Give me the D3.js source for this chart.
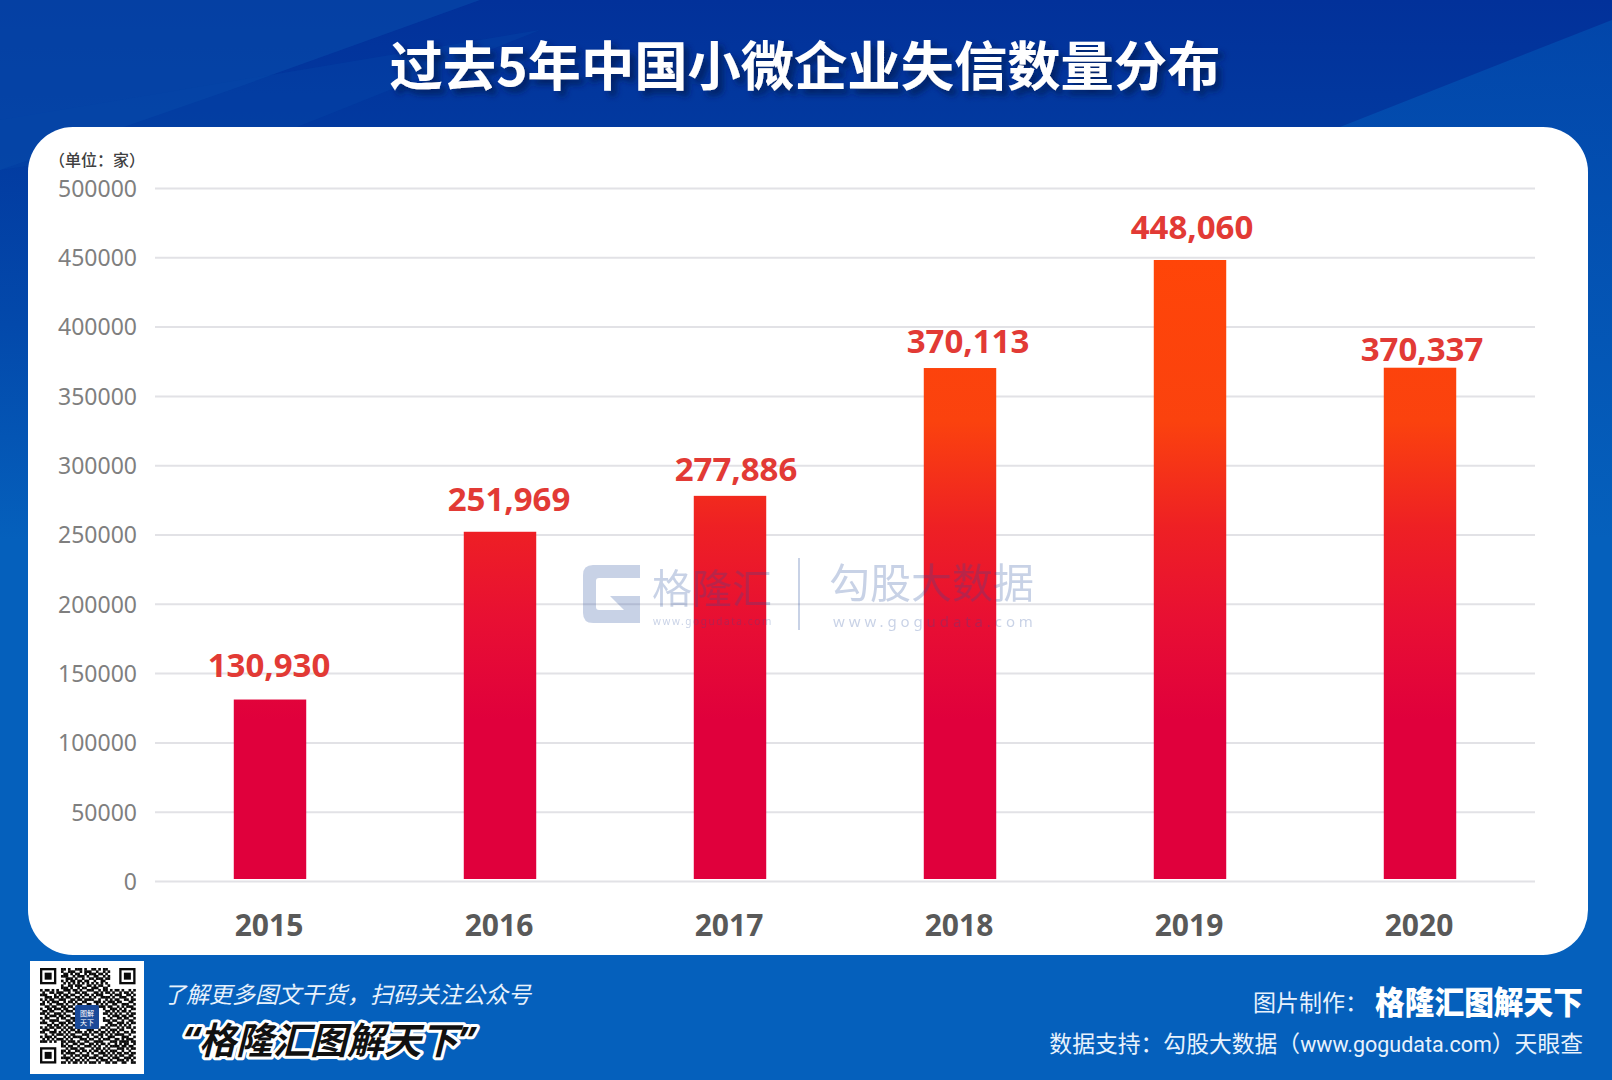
<!DOCTYPE html>
<html>
<head>
<meta charset="utf-8">
<script src="https://cdn.jsdelivr.net/npm/d3@7"></script>
<style>
    html, body { margin: 0; padding: 0; background: #0560bc; }
    svg { display: block; }
    text { font-family: "Noto Sans CJK SC", "Noto Sans", sans-serif; }
    .num { font-family: "Noto Sans", "Noto Sans CJK SC", sans-serif; }
    .axis path { display: none; }
</style>
</head>
<body>
<div id="chart"></div>
<script>
// Chart data
const years = ['2015', '2016', '2017', '2018', '2019', '2020'];
const counts = [130930, 251969, 277886, 370113, 448060, 370337];
const yTicks = [0, 50000, 100000, 150000, 200000, 250000, 300000, 350000, 400000, 450000, 500000];

const titleText = '过去5年中国小微企业失信数量分布';
const unitText = '（单位：家）';

// QR code modules, roughly as seen (finder squares are drawn on top)
const qrRows = [
    '00000000011010011101001101011000000000000',
    '00000000010011100101110010010100000000000',
    '00000000001101011001011101101000000000000',
    '00000000011100101110100110010100000000000',
    '00000000000111010010011011101100000000000',
    '00000000010101101101100100110000000000000',
    '00000000001010101010101010101000000000000',
    '00000000010011011100110101100100000000000',
    '00000000011101001011001110011000000000000',
    '10110101001110110100111001011010110100101',
    '01001101110010011011000110101101001011010',
    '11100010101101100101101011100010111001101',
    '00111011010110011010010100111101001110010',
    '10101100111001101101111001001010110011011',
    '01010111001011010011000111010111011000110',
    '11001001110100101100110010101001100111001',
    '00110110011011000110001101110110010101110',
    '10011011101100111010000000010011101010011',
    '01101100010111001100000000001101010110100',
    '11010011101000110010000000011010101001011',
    '00101110110110001100000000000101110110110',
    '10110001011001110100000000010010011011001',
    '01001111000110101100000000011101100100110',
    '11100100111011010010000000000110011101011',
    '00011011010100101110000000001011101010100',
    '10101101101011010011100110110100010101101',
    '01110010010101101000111001001011101100010',
    '11001110101010011101010110110101010011011',
    '00100101110101100011101001101010111100100',
    '10111010001010111100100110100111000111001',
    '01010101110101000111011001011100110101110',
    '11101010011011101001100111100011101111011',
    '00000000010100110110011010110100101011001',
    '00000000011011001001110101001011110110110',
    '00000000000101110110001011010100011101011',
    '00000000011010011011010110101011100100100',
    '00000000010111100100101001110101011011011',
    '00000000001001011011100110011010101100110',
    '00000000011110100101011101100101110011101',
    '00000000000101011010100010111010011101010',
    '00000000011010110101011101001101100110011'
];

const width = 1612;
const height = 1080;

const svg = d3.select('#chart').append('svg')
    .attr('width', width)
    .attr('height', height)
    .attr('viewBox', `0 0 ${width} ${height}`);

const defs = svg.append('defs');

// Scales
const x = d3.scaleBand().domain(years).range([155, 1535]).paddingInner(0.685).paddingOuter(0.3425);
const y = d3.scaleLinear().domain([0, 500000]).range([881, 188]);

// ---- Background ----
const bgGrad = defs.append('linearGradient').attr('id', 'bg').attr('x1', 0).attr('y1', 0).attr('x2', 0).attr('y2', 1);
[[0, '#02319a'], [0.13, '#023aa0'], [0.3, '#0349ab'], [0.5, '#0560bc'], [1, '#0560bc']].forEach(s => {
    bgGrad.append('stop').attr('offset', s[0]).attr('stop-color', s[1]);
});
svg.append('rect').attr('width', width).attr('height', height).attr('fill', 'url(#bg)');

const rightBand = defs.append('linearGradient').attr('id', 'bandR').attr('x1', 0).attr('y1', 0).attr('x2', 0).attr('y2', 1);
rightBand.append('stop').attr('offset', 0).attr('stop-color', '#0246aa');
rightBand.append('stop').attr('offset', 1).attr('stop-color', '#0560bc');

const bgShapes = [
    { d: 'M0,0 L480,0 L230,90 L0,170 Z', fill: '#0a4dac', opacity: 0.55 },
    { d: 'M0,170 L297,127 L540,30 L0,120 Z', fill: '#0646a8', opacity: 0.4 },
    { d: 'M1340,127 L1612,20 L1612,540 L1340,540 Z', fill: 'url(#bandR)', opacity: 1 }
];
svg.append('g').selectAll('path').data(bgShapes).join('path')
    .attr('d', d => d.d)
    .attr('fill', d => d.fill)
    .attr('opacity', d => d.opacity);

// Title with dark offset shadow
const titleShadow = defs.append('filter').attr('id', 'titleShadow')
    .attr('x', '-5%').attr('y', '-30%').attr('width', '110%').attr('height', '170%');
titleShadow.append('feDropShadow')
    .attr('dx', 5).attr('dy', 5).attr('stdDeviation', 3)
    .attr('flood-color', '#011a5c').attr('flood-opacity', 0.9);

svg.append('text')
    .attr('x', 805)
    .attr('y', 86)
    .attr('text-anchor', 'middle')
    .attr('font-size', 53.3)
    .attr('font-weight', 700)
    .attr('fill', '#ffffff')
    .attr('filter', 'url(#titleShadow)')
    .text(titleText);

// White card behind the plot
svg.append('rect')
    .attr('x', 28).attr('y', 127)
    .attr('width', 1560).attr('height', 828)
    .attr('rx', 45).attr('ry', 45)
    .attr('fill', '#ffffff');

svg.append('text')
    .attr('x', 49)
    .attr('y', 166)
    .attr('font-size', 16)
    .attr('font-weight', 500)
    .attr('fill', '#404040')
    .text(unitText);

// ---- Axes ----
const yAxis = svg.append('g')
    .attr('class', 'axis')
    .attr('transform', 'translate(155,0)')
    .call(d3.axisLeft(y).tickValues(yTicks).tickFormat(d3.format('d')).tickSizeInner(-1380).tickSizeOuter(0).tickPadding(18));
yAxis.selectAll('line').attr('stroke', '#e2e2e6').attr('stroke-width', 2);
yAxis.selectAll('text')
    .attr('class', 'num')
    .attr('y', 1)
    .attr('font-size', 23)
    .attr('fill', '#7f7f7f');

const xAxis = svg.append('g')
    .attr('class', 'axis')
    .attr('transform', 'translate(-1,881)')
    .call(d3.axisBottom(x).tickSize(0).tickPadding(0));
xAxis.selectAll('text')
    .attr('class', 'num')
    .attr('y', 55)
    .attr('dy', 0)
    .attr('font-size', 30)
    .attr('font-weight', 700)
    .attr('fill', '#595959');

// ---- Bars: one gradient shared across the plot height ----
const barGrad = defs.append('linearGradient').attr('id', 'barFill')
    .attr('gradientUnits', 'userSpaceOnUse')
    .attr('x1', 0).attr('x2', 0)
    .attr('y1', y(448060)).attr('y2', y(0));
[[0, '#ff4508'], [0.26, '#fb420e'], [0.43, '#ee2024'], [0.58, '#e80f33'], [0.74, '#e0003c'], [1, '#e0003c']].forEach(s => {
    barGrad.append('stop').attr('offset', s[0]).attr('stop-color', s[1]);
});

const barFootGap = 2;
svg.append('g').selectAll('rect').data(years).join('rect')
    .attr('x', d => x(d))
    .attr('y', (d, i) => y(counts[i]))
    .attr('width', x.bandwidth())
    .attr('height', (d, i) => y(0) - y(counts[i]) - barFootGap)
    .attr('fill', 'url(#barFill)');

// Value labels sit by hand in the original, so each has its own nudge
const labelDx = [-1, 9, 6, 8, 2, 2];
const labelDy = [23, 21, 15, 15, 21, 7];
svg.append('g').selectAll('text').data(years).join('text')
    .attr('class', 'num')
    .attr('x', (d, i) => x(d) + x.bandwidth() / 2 + labelDx[i])
    .attr('y', (d, i) => y(counts[i]) - labelDy[i])
    .attr('text-anchor', 'middle')
    .attr('font-size', 33)
    .attr('font-weight', 700)
    .attr('fill', '#e23a35')
    .text((d, i) => d3.format(',')(counts[i]));

// ---- Watermark, over the bars ----
const wm = svg.append('g').attr('fill', '#2a4f9e').attr('opacity', 0.25);
wm.append('path')
    .attr('fill-rule', 'evenodd')
    .attr('d', 'M593,565 L640,565 L640,578 L599,578 Q596,578 596,581 L596,607 Q596,610 599,610 L624,610 L610,596 L640,596 L640,623 L628,623 L622,623 L593,623 Q583,623 583,613 L583,575 Q583,565 593,565 Z');
wm.append('text').attr('x', 652).attr('y', 603).attr('font-size', 40).text('格隆汇');
wm.append('text').attr('class', 'num').attr('x', 653).attr('y', 625).attr('font-size', 10).attr('letter-spacing', 1.6).text('www.gogudata.com');
wm.append('rect').attr('x', 798).attr('y', 558).attr('width', 2).attr('height', 72);
wm.append('text').attr('x', 829).attr('y', 598).attr('font-size', 41).text('勾股大数据');
wm.append('text').attr('class', 'num').attr('x', 833).attr('y', 627).attr('font-size', 15).attr('letter-spacing', 3.9).text('www.gogudata.com');

// ---- Footer ----
svg.append('rect').attr('x', 30).attr('y', 961).attr('width', 114).attr('height', 113).attr('fill', '#ffffff');

const qrX = 40, qrY = 968, qrCell = 2.33;
const qrCells = [];
qrRows.forEach((row, r) => {
    row.split('').forEach((c, k) => {
        if (c === '1') qrCells.push({ r, k });
    });
});
const qr = svg.append('g').attr('transform', `translate(${qrX},${qrY})`);
qr.selectAll('rect.mod').data(qrCells).join('rect')
    .attr('class', 'mod')
    .attr('x', d => d.k * qrCell)
    .attr('y', d => d.r * qrCell)
    .attr('width', qrCell + 0.3)
    .attr('height', qrCell + 0.3)
    .attr('fill', '#0a0a0a');

// Three finder squares
[[0, 0], [34, 0], [0, 34]].forEach(p => {
    const g = qr.append('g').attr('transform', `translate(${p[0] * qrCell},${p[1] * qrCell})`);
    g.append('rect').attr('width', 7 * qrCell).attr('height', 7 * qrCell).attr('fill', '#0a0a0a');
    g.append('rect').attr('x', qrCell).attr('y', qrCell).attr('width', 5 * qrCell).attr('height', 5 * qrCell).attr('fill', '#ffffff');
    g.append('rect').attr('x', 2 * qrCell).attr('y', 2 * qrCell).attr('width', 3 * qrCell).attr('height', 3 * qrCell).attr('fill', '#0a0a0a');
});

// Logo in the middle of the QR code
svg.append('rect').attr('x', 75).attr('y', 1005).attr('width', 24).attr('height', 24).attr('rx', 2).attr('fill', '#1b4a98');
svg.append('text').attr('x', 87).attr('y', 1016).attr('text-anchor', 'middle').attr('font-size', 7).attr('fill', '#ffffff').text('图解');
svg.append('text').attr('x', 87).attr('y', 1025).attr('text-anchor', 'middle').attr('font-size', 7).attr('fill', '#ffffff').text('天下');

svg.append('text')
    .attr('x', 163)
    .attr('y', 1003)
    .attr('font-size', 23)
    .attr('font-style', 'italic')
    .attr('fill', '#e8f2fc')
    .text('了解更多图文干货，扫码关注公众号');

svg.append('text')
    .attr('class', 'num')
    .attr('x', 183)
    .attr('y', 1054)
    .attr('font-size', 37)
    .attr('font-weight', 700)
    .attr('font-style', 'italic')
    .attr('fill', '#111111')
    .attr('stroke', '#ffffff')
    .attr('stroke-width', 6)
    .attr('stroke-linejoin', 'round')
    .attr('paint-order', 'stroke')
    .text('“格隆汇图解天下”');

svg.append('text')
    .attr('x', 1253)
    .attr('y', 1011)
    .attr('font-size', 23)
    .attr('fill', '#e8f2fc')
    .text('图片制作：');

svg.append('text')
    .attr('x', 1375)
    .attr('y', 1014)
    .attr('font-size', 32)
    .attr('font-weight', 900)
    .attr('fill', '#ffffff')
    .attr('textLength', 208)
    .attr('lengthAdjust', 'spacingAndGlyphs')
    .text('格隆汇图解天下');

const sourceLine = svg.append('text')
    .attr('x', 1583)
    .attr('y', 1052)
    .attr('text-anchor', 'end')
    .attr('font-size', 22.8)
    .attr('fill', '#e8f2fc');
sourceLine.append('tspan').text('数据支持：勾股大数据（');
sourceLine.append('tspan').attr('font-family', 'Roboto').attr('font-size', 21.5).text('www.gogudata.com');
sourceLine.append('tspan').text('）天眼查');
</script>
</body>
</html>
